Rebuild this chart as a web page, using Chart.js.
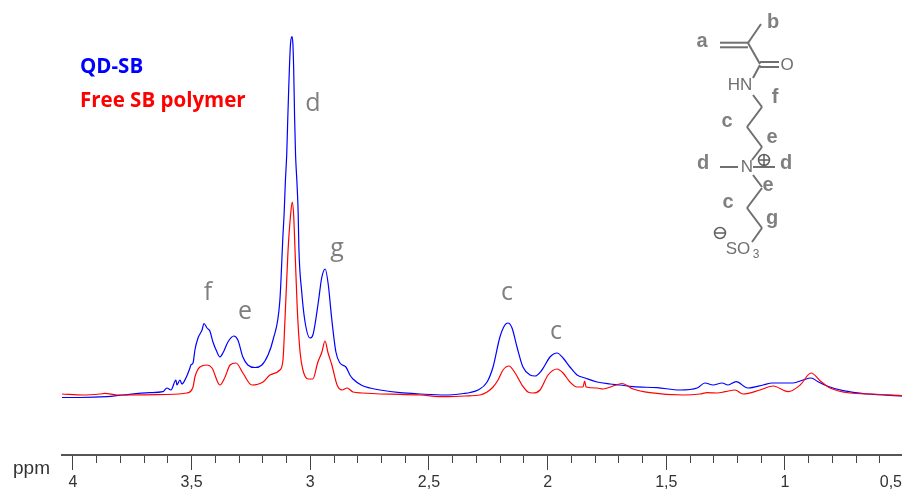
<!DOCTYPE html>
<html>
<head>
<meta charset="utf-8">
<title>NMR spectra</title>
<script src="https://cdn.jsdelivr.net/npm/chart.js@4/dist/chart.umd.min.js"></script>
<style>
html, body { margin: 0; padding: 0; background: #fff; overflow: hidden; }
canvas { display: block; }
</style>
</head>
<body>
<canvas id="nmr" width="902" height="490"></canvas>
<script>
// values: chemical shift (ppm) and intensity (arbitrary units)
const bluePpm = [4.046, 3.971, 3.857, 3.789, 3.676, 3.621, 3.604, 3.587, 3.566, 3.562, 3.549, 3.541, 3.524, 3.507, 3.503, 3.494, 3.486, 3.473, 3.456, 3.448, 3.435, 3.423, 3.410, 3.393, 3.381, 3.368, 3.347, 3.322, 3.305, 3.284, 3.263, 3.233, 3.204, 3.178, 3.157, 3.128, 3.115, 3.110, 3.105, 3.099, 3.095, 3.091, 3.087, 3.083, 3.077, 3.073, 3.070, 3.066, 3.062, 3.056, 3.051, 3.048, 3.036, 3.022, 3.001, 2.989, 2.966, 2.952, 2.937, 2.924, 2.910, 2.892, 2.875, 2.850, 2.833, 2.820, 2.782, 2.748, 2.706, 2.622, 2.538, 2.432, 2.348, 2.327, 2.293, 2.255, 2.230, 2.201, 2.180, 2.167, 2.150, 2.129, 2.104, 2.074, 2.053, 2.024, 1.990, 1.960, 1.935, 1.906, 1.876, 1.842, 1.792, 1.737, 1.695, 1.640, 1.539, 1.442, 1.370, 1.337, 1.303, 1.265, 1.240, 1.206, 1.156, 1.092, 1.054, 0.966, 0.924, 0.890, 0.861, 0.823, 0.755, 0.654, 0.507];
const blueInt = [-1.5, -1.5, -0.7, 1, 3.3, 4.3, 8, 6, 16, 11, 16, 12, 18, 28, 31, 33, 46, 58, 66, 72.5, 68, 65, 54, 44, 39, 43, 54, 60, 56, 39, 31, 28.5, 31, 41, 56, 96, 161, 183, 214, 243, 276, 306, 334, 353, 359.3, 351, 328, 278, 241, 213, 183, 148, 104, 74, 58, 61, 94, 118, 127, 111, 78, 44, 33, 29, 21, 17, 10.5, 8, 6, 3.3, 2, 1, 2.7, 3.5, 6, 14, 29, 59, 71, 73, 68, 49, 29, 21, 20, 26, 39, 43, 38, 29, 21, 18, 14, 12, 11, 9.3, 8.3, 6, 8, 13, 11, 13, 11, 14.3, 8, 11, 13, 13, 16, 18, 14.3, 10, 5.3, 2, 0];
const redPpm = [4.046, 3.958, 3.886, 3.865, 3.815, 3.604, 3.520, 3.494, 3.486, 3.465, 3.435, 3.414, 3.381, 3.359, 3.338, 3.313, 3.284, 3.246, 3.199, 3.170, 3.128, 3.115, 3.107, 3.094, 3.083, 3.076, 3.070, 3.065, 3.055, 3.043, 3.031, 3.010, 2.989, 2.968, 2.951, 2.938, 2.925, 2.909, 2.887, 2.866, 2.845, 2.820, 2.782, 2.706, 2.622, 2.538, 2.432, 2.348, 2.285, 2.255, 2.230, 2.209, 2.188, 2.163, 2.137, 2.108, 2.083, 2.062, 2.032, 1.998, 1.960, 1.935, 1.906, 1.876, 1.851, 1.844, 1.838, 1.792, 1.767, 1.724, 1.687, 1.640, 1.569, 1.429, 1.358, 1.328, 1.286, 1.252, 1.210, 1.177, 1.105, 1.050, 0.987, 0.936, 0.890, 0.852, 0.810, 0.726, 0.629, 0.507];
const redInt = [2, 1, 2, 2.6, 1, 1.5, 3, 9, 19, 29, 31, 28, 11, 19, 31, 33, 23, 11, 14, 21, 26, 36, 74, 144, 181, 194, 181, 151, 88, 44, 26, 17, 17, 34, 44, 55, 43, 31, 11, 6, 8, 4, 3, 2, 1.7, 1, -0.7, 0, 1, 4, 9, 16, 26, 30, 23, 11, 4, 3, 6, 21, 27, 23, 14, 9, 9, 15, 9, 8, 7, 10, 12.5, 7, 3.3, 1, 2, 3.3, 3, 4.3, 6, 2, 6, 10, 4.3, 11, 23, 15.3, 8, 3, 2, 0.3];

// peak letters, placed on the spectrum axes
const peakNames = ['d', 'g', 'f', 'e', 'c', 'c'];
const peakPpm = [2.989, 2.887, 3.431, 3.275, 2.171, 1.965];
const peakHeight = [292, 147, 103, 84, 103, 64];

const seriesNames = ['QD-SB', 'Free SB polymer'];
const axisStart = 4.046;
const axisEnd = 0.507;
const intensityMin = -59;
const intensityMax = 396;

const GREY = '#7f7f7f';

function toPoints(xs, ys) {
    return xs.map(function (x, i) { return { x: x, y: ys[i] }; });
}

// text next to the curves: peak letters and coloured series names
const annotations = {
    id: 'annotations',
    afterDatasetsDraw: function (chart) {
        const ctx = chart.ctx;
        const x = chart.scales.x;
        const y = chart.scales.y;
        ctx.save();
        ctx.textAlign = 'center';
        ctx.textBaseline = 'middle';
        ctx.fillStyle = GREY;
        ctx.font = '25px "Open Sans", sans-serif';
        peakNames.forEach(function (name, i) {
            ctx.fillText(name, x.getPixelForValue(peakPpm[i]), y.getPixelForValue(peakHeight[i]));
        });

        ctx.textAlign = 'left';
        ctx.font = 'bold 20.5px "Open Sans", sans-serif';
        ctx.fillStyle = '#0000ff';
        ctx.fillText(seriesNames[0], 80, 67);
        ctx.fillStyle = '#ff0000';
        ctx.fillText(seriesNames[1], 80, 101);

        // last axis label sits against the edge of the picture
        ctx.fillStyle = '#333';
        ctx.textAlign = 'right';
        ctx.font = '16px "Liberation Sans", Arial, sans-serif';
        ctx.fillText('0,5', 902, 483);

        ctx.textAlign = 'left';
        ctx.font = '19px "Liberation Sans", Arial, sans-serif';
        ctx.fillText('ppm', 13, 469);
        ctx.restore();
    }
};

// inset drawing of the monomer, top right
const molecule = {
    id: 'molecule',
    afterDraw: function (chart) {
        const ctx = chart.ctx;
        const bonds = [
            [720, 42.7, 748, 42.7], [720, 47.3, 748, 47.3],
            [748, 43, 761, 24], [748, 43, 760, 64],
            [760, 62, 779, 62], [760, 67, 779, 67],
            [760, 65, 753, 78], [753, 95, 762, 107],
            [762, 107, 747, 127], [747, 127, 762, 147], [762, 147, 752, 160],
            [720, 167, 738, 167], [753, 167, 775, 167],
            [753, 175, 762, 187], [762, 188, 747, 208],
            [747, 208, 762, 228], [762, 228, 752, 242]
        ];
        ctx.save();
        ctx.strokeStyle = '#707070';
        ctx.lineWidth = 2;
        bonds.forEach(function (b) {
            ctx.beginPath();
            ctx.moveTo(b[0], b[1]);
            ctx.lineTo(b[2], b[3]);
            ctx.stroke();
        });

        ctx.textAlign = 'center';
        ctx.textBaseline = 'middle';
        ctx.fillStyle = '#707070';
        ctx.font = '17px "Liberation Sans", Arial, sans-serif';
        ctx.fillText('O', 787, 65);
        ctx.fillText('HN', 740, 85);
        ctx.fillText('N', 747, 167);
        ctx.fillText('SO', 738, 249);
        ctx.font = '12px "Liberation Sans", Arial, sans-serif';
        ctx.fillText('3', 756, 255);

        ctx.fillStyle = '#808080';
        ctx.font = 'bold 20px "Liberation Sans", Arial, sans-serif';
        [['a', 702, 41], ['b', 773, 22], ['f', 775, 97], ['c', 727, 121], ['e', 772, 137],
         ['d', 703, 163], ['d', 786, 163], ['e', 768, 185], ['c', 728, 202], ['g', 772, 218]].forEach(function (t) {
            ctx.fillText(t[0], t[1], t[2]);
        });

        // charges
        [[764, 160, true], [720, 233, false]].forEach(function (c) {
            ctx.lineWidth = 1.5;
            ctx.strokeStyle = '#606060';
            ctx.beginPath();
            ctx.arc(c[0], c[1], 5.5, 0, Math.PI * 2);
            ctx.moveTo(c[0] - 5.5, c[1]);
            ctx.lineTo(c[0] + 5.5, c[1]);
            if (c[2]) {
                ctx.moveTo(c[0], c[1] - 5.5);
                ctx.lineTo(c[0], c[1] + 5.5);
            }
            ctx.stroke();
        });
        ctx.restore();
    }
};

new Chart(document.getElementById('nmr').getContext('2d'), {
    type: 'line',
    data: {
        datasets: [{
            label: seriesNames[1],
            data: toPoints(redPpm, redInt),
            borderColor: '#ff0000',
            borderWidth: 1.2,
            pointRadius: 0,
            cubicInterpolationMode: 'monotone',
            order: 1
        }, {
            label: seriesNames[0],
            data: toPoints(bluePpm, blueInt),
            borderColor: '#0000ff',
            borderWidth: 1.2,
            pointRadius: 0,
            cubicInterpolationMode: 'monotone',
            order: 2
        }]
    },
    options: {
        responsive: false,
        animation: false,
        devicePixelRatio: 1,
        layout: { padding: { left: 62, right: 0, top: 0, bottom: 0 } },
        plugins: { legend: { display: false }, tooltip: { enabled: false } },
        scales: {
            x: {
                type: 'linear',
                reverse: true,
                min: axisEnd,
                max: axisStart,
                position: 'bottom',
                afterFit: function (scale) { scale.height = 35; },
                border: { color: '#555', width: 2 },
                grid: { drawOnChartArea: false, tickLength: 15, tickColor: '#444', tickWidth: 1 },
                ticks: {
                    stepSize: 0.5,
                    includeBounds: false,
                    autoSkip: false,
                    maxRotation: 0,
                    padding: 3,
                    color: '#333',
                    font: { family: '"Liberation Sans", Arial, sans-serif', size: 16 },
                    callback: function (v) { return String(Math.round(v * 10) / 10).replace('.', ','); }
                }
            },
            xMinor: {
                type: 'linear',
                axis: 'x',
                reverse: true,
                min: axisEnd,
                max: axisStart,
                position: { y: intensityMin },
                border: { display: false },
                grid: { drawOnChartArea: false, tickLength: 8, tickColor: '#444', tickWidth: 1 },
                ticks: { stepSize: 0.1, includeBounds: false, autoSkip: false, display: false }
            },
            y: {
                display: false,
                min: intensityMin,
                max: intensityMax
            }
        }
    },
    plugins: [annotations, molecule]
});
</script>
</body>
</html>
